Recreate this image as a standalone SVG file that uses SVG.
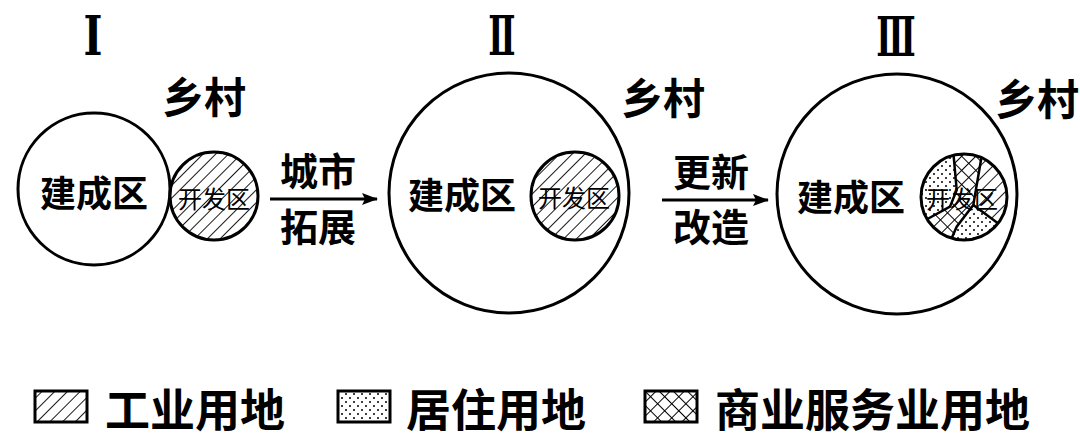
<svg xmlns="http://www.w3.org/2000/svg" width="1080" height="446" viewBox="0 0 1080 446">
<style>
.bg{fill:#ffffff}
.big{fill:none;stroke:#000;stroke-width:3}
.sm{stroke:#000;stroke-width:3}
.lbl{font-family:"Noto Sans CJK SC",sans-serif;font-weight:bold;fill:#000;text-anchor:middle;dominant-baseline:central}
.small{font-family:"Noto Sans CJK SC",sans-serif;font-weight:normal;fill:#000;text-anchor:middle;dominant-baseline:central;font-size:24px}
.roman{font-family:"Liberation Serif","DejaVu Serif","Noto Sans CJK SC",serif;font-weight:bold;fill:#000;text-anchor:middle;dominant-baseline:central;font-size:54px}
.leg{font-family:"Noto Sans CJK SC",sans-serif;font-weight:bold;fill:#000;dominant-baseline:central;font-size:45px}
.conn{stroke:#000;stroke-width:3;fill:none}
.seg{stroke:#000;stroke-width:2.5;fill:none}
</style>
<defs>
<pattern id="hatch" patternUnits="userSpaceOnUse" width="9" height="9" patternTransform="rotate(45)">
<rect width="9" height="9" fill="#fff"/>
<line x1="0" y1="0" x2="0" y2="9" stroke="#000" stroke-width="1.8"/>
</pattern>
<pattern id="dots" patternUnits="userSpaceOnUse" width="8" height="8">
<rect width="8" height="8" fill="#fff"/>
<circle cx="2" cy="2" r="1" fill="#000"/>
<circle cx="6" cy="6" r="1" fill="#000"/>
</pattern>
<pattern id="cross" patternUnits="userSpaceOnUse" width="10" height="10" patternTransform="rotate(45)">
<rect width="10" height="10" fill="#fff"/>
<line x1="0" y1="0" x2="0" y2="10" stroke="#000" stroke-width="2"/>
<line x1="0" y1="0" x2="10" y2="0" stroke="#000" stroke-width="2"/>
</pattern>
<marker id="arr" viewBox="0 0 16 12" refX="15" refY="6" markerWidth="16" markerHeight="12" markerUnits="userSpaceOnUse" orient="auto">
<path d="M0,0 L16,6 L0,12 L3,6 Z" fill="#000"/>
</marker>
<clipPath id="clip3"><circle cx="964" cy="197" r="43"/></clipPath>
</defs>
<rect class="bg" x="0" y="0" width="1080" height="446"/>

<g id="stage1">
<text class="roman" transform="translate(93,36) scale(0.75,1)">Ⅰ</text>
<text class="lbl" x="204" y="94" font-size="42">乡村</text>
<circle class="big" cx="94" cy="189" r="76"/>
<text class="lbl" x="94" y="191" font-size="36">建成区</text>
<g id="dev1">
<circle class="sm" cx="214" cy="196" r="44" fill="url(#hatch)"/>
<text class="small" x="214" y="197">开发区</text>
</g>
</g>

<g id="stage2">
<text class="roman" transform="translate(502,37) scale(0.6,1)">Ⅱ</text>
<text class="lbl" x="663" y="95" font-size="42">乡村</text>
<circle class="big" cx="509" cy="193" r="120"/>
<text class="lbl" x="462" y="193" font-size="36">建成区</text>
<g id="dev2">
<circle class="sm" cx="575" cy="196" r="44" fill="url(#hatch)"/>
<text class="small" x="574" y="196">开发区</text>
</g>
</g>

<g id="stage3">
<text class="roman" transform="translate(896,38) scale(0.6,1)">Ⅲ</text>
<text class="lbl" x="1037" y="96" font-size="42">乡村</text>
<circle class="big" cx="897" cy="194" r="120"/>
<text class="lbl" x="851" y="195" font-size="36">建成区</text>
<g id="dev3">
<g clip-path="url(#clip3)">
<rect x="918" y="150" width="92" height="95" fill="url(#dots)"/>
<path d="M981.7,150 L1010,150 L1010,228 L1000,225 L973.3,205 Z" fill="url(#hatch)"/>
<path d="M953.3,150 L981.7,150 L981.7,158.3 L973.3,205 L956.7,226.7 L950,245 L918,245 L918,222 L925,220 L950,206.7 L956.7,190 Z" fill="url(#cross)"/>
<path class="seg" d="M953.3,152 L956.7,190 L950,206.7 L922,222"/>
<path class="seg" d="M981.7,156 L973.3,205 L956.7,226.7 L950,242"/>
<path class="seg" d="M973.3,205 L1003,227"/>
</g>
<circle class="sm" cx="964" cy="197" r="43" fill="none"/>
<text class="small" x="962" y="197">开发区</text>
</g>
</g>

<g id="connectors">
<line class="conn" x1="270" y1="199" x2="377" y2="199" marker-end="url(#arr)"/>
<line class="conn" x1="662" y1="200" x2="768" y2="200" marker-end="url(#arr)"/>
</g>
<g id="connector-labels">
<text class="lbl" x="318" y="168" font-size="38">城市</text>
<text class="lbl" x="318" y="224" font-size="38">拓展</text>
<text class="lbl" x="711" y="169" font-size="38">更新</text>
<text class="lbl" x="711" y="224" font-size="38">改造</text>
</g>

<g id="legend">
<rect x="35" y="391" width="52" height="31" fill="url(#hatch)" stroke="#000" stroke-width="3"/>
<text class="leg" x="105" y="407">工业用地</text>
<rect x="338" y="391" width="52" height="31" fill="url(#dots)" stroke="#000" stroke-width="3"/>
<text class="leg" x="406" y="407">居住用地</text>
<rect x="645" y="391" width="52" height="31" fill="url(#cross)" stroke="#000" stroke-width="3"/>
<text class="leg" x="715" y="407">商业服务业用地</text>
</g>
</svg>
